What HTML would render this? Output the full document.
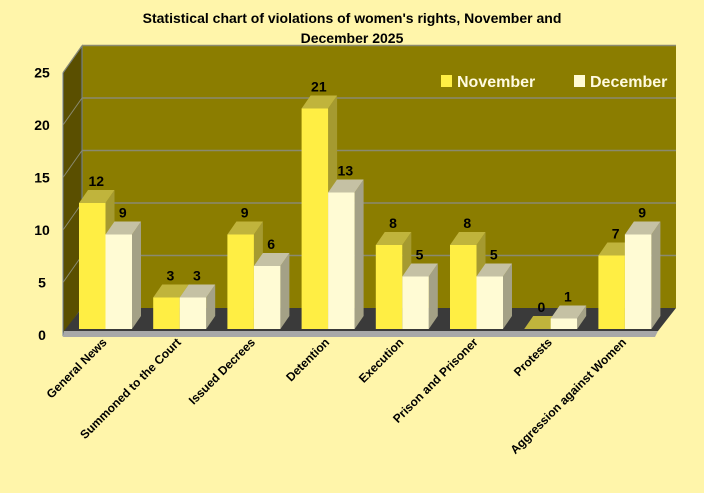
<!DOCTYPE html>
<html><head><meta charset="utf-8"><style>
body{margin:0;background:#fff5aa;}
svg{display:block;font-family:"Liberation Sans",sans-serif;}
</style></head><body>
<svg id="c" width="704" height="493">
<rect width="704" height="493" fill="#fff5aa"/>
<text x="352" y="23" text-anchor="middle" font-size="14" font-weight="bold" fill="#000">Statistical chart of violations of women's rights, November and</text>
<text x="352" y="43" text-anchor="middle" font-size="14" font-weight="bold" fill="#000">December 2025</text>
<g id="g"></g>
</svg>
<script>
const categories=["General News","Summoned to the Court","Issued Decrees","Detention","Execution","Prison and Prisoner","Protests","Aggression against Women"];
const november=[12,3,9,21,8,8,0,7];
const december=[9,3,6,13,5,5,1,9];
const yTicks=[0,5,10,15,20,25];
const seriesNames=["November","December"];
const NS="http://www.w3.org/2000/svg";
const g=document.getElementById('g');
const base=329, unit=10.5, dx=9, dy=-13, x0=79, step=74.2, bw=26.5;
function y(v){return base-v*unit;}
function el(t,a,name){const e=document.createElementNS(NS,t);for(const k in a)e.setAttribute(k,a[k]);


g.appendChild(e);return e;}
el('rect',{x:82,y:y(25)-21,width:594,height:262.5,fill:'#8b7d00'},'back-wall');
el('polygon',{points:'63,73 82,46 82,308 63,335',fill:'#5a4f00',stroke:'#6d7fa0','stroke-width':1},'left-wall');
yTicks.forEach(t=>{const yy=y(t)-21;
 if(t>0){el('line',{x1:82,y1:yy,x2:676,y2:yy,stroke:'#8a8a70','stroke-width':1.5},'gridline');
 el('line',{x1:63,y1:y(t)+6,x2:82,y2:yy,stroke:'#8a8a70','stroke-width':1},'gridline-side');}
 const tx=el('text',{x:42,y:y(t)+11,'text-anchor':'middle','font-size':14,'font-weight':'bold',fill:'#000'},'y-tick-label');tx.textContent=t;});
el('polygon',{points:'82,308 676,308 658,331 64,331',fill:'#3a3a3a'},'floor');
el('polygon',{points:'64,331 658,331 655,337 63,337',fill:'#a8a8a8'},'floor-edge');
function bar(x,v,cols,name,label){
 const t=y(v);
 el('polygon',{points:`${x+bw},${t} ${x+bw+dx},${t+dy} ${x+bw+dx},${base+dy} ${x+bw},${base}`,fill:cols[2]},name+'-side');
 el('polygon',{points:`${x},${t} ${x+dx},${t+dy} ${x+bw+dx},${t+dy} ${x+bw},${t}`,fill:cols[1]},name+'-top');
 if(v>0)el('rect',{x:x,y:t,width:bw,height:base-t,fill:cols[0]},name);
 const tx=el('text',{x:x+bw/2+4,y:t+dy-4,'text-anchor':'middle','font-size':14,'font-weight':'bold',fill:'#000'},name+'-value');tx.textContent=label;
}
categories.forEach((c,i)=>{
 const x=x0+i*step;
 bar(x,november[i],['#ffee44','#c0b43c','#a59a30'],'bar-november',november[i]);
 bar(x+bw,december[i],['#fffbd4','#c5c1a4','#a4a186'],'bar-december',december[i]);
 const cx=x+bw+2, cy=343;
 const tx=el('text',{x:cx,y:cy,'text-anchor':'end','font-size':12,'font-weight':'bold',fill:'#000',transform:`rotate(-45 ${cx} ${cy})`},'x-axis-label');tx.textContent=c;
});
el('rect',{x:441,y:75,width:11,height:12,fill:'#ffee44'},'legend-swatch-november');
let t1=el('text',{x:457,y:87,'font-size':16,'font-weight':'bold',fill:'#fffbe0'},'legend-november');t1.textContent=seriesNames[0];
el('rect',{x:574,y:75,width:11,height:12,fill:'#fffbd4'},'legend-swatch-december');
let t2=el('text',{x:590,y:87,'font-size':16,'font-weight':'bold',fill:'#fffbe0'},'legend-december');t2.textContent=seriesNames[1];
</script>
</body></html>
